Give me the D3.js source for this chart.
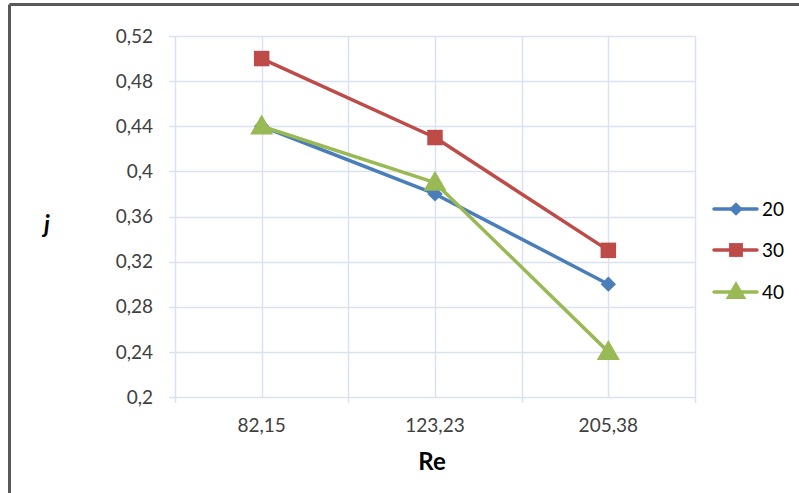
<!DOCTYPE html>
<html>
<head>
<meta charset="utf-8">
<script src="https://cdn.jsdelivr.net/npm/d3@7/dist/d3.min.js"></script>
<style>
  html, body { margin: 0; padding: 0; background: #fff; }
  svg { display: block; font-family: Lato, "Open Sans", sans-serif; }
</style>
</head>
<body>
<svg id="chart" width="799" height="493"></svg>
<script>
// Categories on the x axis (Reynolds number)
const categories = ["82,15", "123,23", "205,38"];
// Series names and values of j
const seriesNames = ["20", "30", "40"];
const values20 = [0.44, 0.38, 0.30];
const values30 = [0.50, 0.43, 0.33];
const values40 = [0.44, 0.39, 0.24];
const yTicks = [0.2, 0.24, 0.28, 0.32, 0.36, 0.4, 0.44, 0.48, 0.52];
const yTickLabels = ["0,2", "0,24", "0,28", "0,32", "0,36", "0,4", "0,44", "0,48", "0,52"];

const colors = ["#4a7ebb", "#be4b48", "#98b954"];
const symbols = [d3.symbolDiamond2, d3.symbolSquare, d3.symbolTriangle];
const symSizes = [150, 240, 230];

const series = [values20, values30, values40].map((v, i) => ({ name: seriesNames[i], values: v }));

const svg = d3.select("#chart");
const plotL = 175, plotR = 695, plotT = 36, plotB = 397;

// Outer frame (top and left edges visible)
svg.append("line").attr("x1", 9.5).attr("x2", 799).attr("y1", 4.5).attr("y2", 4.5)
  .attr("stroke", "#595959").attr("stroke-width", 3);
svg.append("line").attr("x1", 9.5).attr("x2", 9.5).attr("y1", 4.5).attr("y2", 493)
  .attr("stroke", "#595959").attr("stroke-width", 3);

const x = d3.scaleBand().domain(categories).range([plotL, plotR]).paddingInner(0).paddingOuter(0);
const y = d3.scaleLinear().domain([0.2, 0.52]).range([plotB, plotT]);
const cx = c => x(c) + x.bandwidth() / 2;

const gridColor = "#d9e2f1";
const g = svg.append("g");

// Horizontal gridlines
g.selectAll(".hg").data(yTicks).join("line")
  .attr("x1", plotL - 6).attr("x2", plotR)
  .attr("y1", d => Math.round(y(d)) + 0.5).attr("y2", d => Math.round(y(d)) + 0.5)
  .attr("stroke", gridColor).attr("stroke-width", 1.5);

// Vertical gridlines at category boundaries (with ticks below axis) and centres
const bounds = categories.map(c => x(c)).concat([plotR]);
g.selectAll(".vb").data(bounds).join("line")
  .attr("x1", d => Math.round(d) + 0.5).attr("x2", d => Math.round(d) + 0.5)
  .attr("y1", plotT).attr("y2", plotB + 6)
  .attr("stroke", gridColor).attr("stroke-width", 1.5);
g.selectAll(".vc").data(categories).join("line")
  .attr("x1", d => Math.round(cx(d)) + 0.5).attr("x2", d => Math.round(cx(d)) + 0.5)
  .attr("y1", plotT).attr("y2", plotB)
  .attr("stroke", gridColor).attr("stroke-width", 1.5);

// Y tick labels
g.selectAll(".yl").data(yTicks).join("text")
  .attr("x", 153).attr("y", d => y(d)).attr("dy", "0.35em")
  .attr("text-anchor", "end").attr("font-size", 19).attr("fill", "#404040")
  .text((d, i) => yTickLabels[i]);

// X tick labels
g.selectAll(".xl").data(categories).join("text")
  .attr("x", d => cx(d)).attr("y", 432)
  .attr("text-anchor", "middle").attr("font-size", 19).attr("fill", "#404040")
  .text(d => d);

// Axis titles
svg.append("text").attr("x", 432).attr("y", 470).attr("text-anchor", "middle")
  .attr("font-size", 24).attr("font-weight", "bold").attr("fill", "#000").text("Re");
svg.append("text").attr("x", 47).attr("y", 233).attr("text-anchor", "middle")
  .attr("font-size", 24).attr("font-weight", "bold").attr("font-style", "italic")
  .attr("fill", "#000").text("j");

// Series lines and markers
const line = d3.line().x((d, i) => cx(categories[i])).y(d => y(d));
series.forEach((s, si) => {
  const sg = svg.append("g");
  sg.append("path").datum(s.values).attr("d", line)
    .attr("fill", "none").attr("stroke", colors[si]).attr("stroke-width", 3.5)
    .attr("stroke-linejoin", "round");
  sg.selectAll("path.m").data(s.values).join("path").attr("class", "m")
    .attr("d", d3.symbol().type(symbols[si]).size(symSizes[si]))
    .attr("transform", (d, i) => `translate(${cx(categories[i])},${y(d) + (si === 2 ? 1.5 : 0)})`)
    .attr("fill", colors[si]);
});

// Legend
const legY = [209, 250, 292];
series.forEach((s, si) => {
  const lg = svg.append("g").attr("transform", `translate(0,${legY[si]})`);
  lg.append("line").attr("x1", 714).attr("x2", 757).attr("y1", 0).attr("y2", 0)
    .attr("stroke", colors[si]).attr("stroke-width", 3.5).attr("stroke-linecap", "round");
  lg.append("path").attr("d", d3.symbol().type(symbols[si]).size(symSizes[si] * 0.8))
    .attr("transform", `translate(736,${si === 2 ? 1 : 0})`).attr("fill", colors[si]);
  lg.append("text").attr("x", 762).attr("y", 0).attr("dy", "0.35em")
    .attr("font-size", 19).attr("fill", "#000").text(s.name);
});
</script>
</body>
</html>
